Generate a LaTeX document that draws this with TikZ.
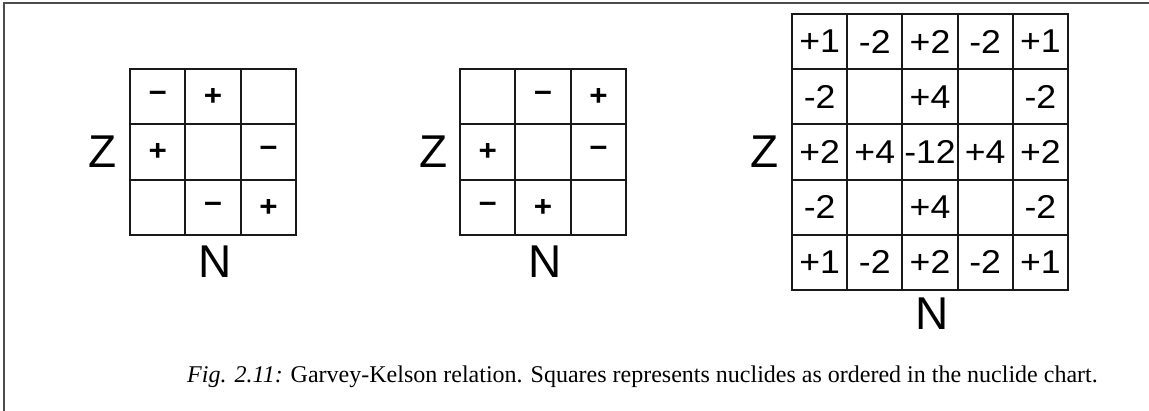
\documentclass[tikz,border=0pt]{standalone}
\usepackage{fontspec}
\setmainfont{Liberation Serif}
\newfontfamily\gksans{Liberation Sans}
\newfontfamily\gkwide[FakeStretch=1.08]{Liberation Sans}
\begin{document}
\begin{tikzpicture}[x=1pt,y=-1pt,
  cellA/.style={draw=black!90,line width=2pt,minimum size=55.4pt,inner sep=0pt,
    font=\gkwide\bfseries\fontsize{29}{29}\selectfont},
  cellB/.style={draw=black!90,line width=2pt,minimum size=55.2pt,inner sep=0pt,
    font=\gkwide\fontsize{33}{33}\selectfont},
  axislabel/.style={font=\gksans\fontsize{46}{46}\selectfont,inner sep=0pt},
  frameline/.style={draw=black!70,line width=2pt},
  caption/.style={font=\fontsize{24}{24}\selectfont,inner sep=0pt,anchor=base west}]
\useasboundingbox (0,0) rectangle (1149,411);
\draw[frameline] (4,411) -- (4,3) -- (1149,3);
% grid 1
\foreach \r/\c/\t in {1/1/{−},1/2/{+},1/3/{},2/1/{+},2/2/{},2/3/{−},3/1/{},3/2/{−},3/3/{+}}{
  \node[cellA] (a\r\c) at ({130+(\c-0.5)*55.4},{69+(\r-0.5)*55.4}) {\t};
}
\node[axislabel] (za) at (102.7,151.7) {Z};
\node[axislabel] (na) at (215,262) {N};
% grid 2
\foreach \r/\c/\t in {1/1/{},1/2/{−},1/3/{+},2/1/{+},2/2/{},2/3/{−},3/1/{−},3/2/{+},3/3/{}}{
  \node[cellA] (b\r\c) at ({460+(\c-0.5)*55.4},{69+(\r-0.5)*55.4}) {\t};
}
\node[axislabel] (zb) at (433.3,151.7) {Z};
\node[axislabel] (nb) at (545.5,262) {N};
% grid 3
\foreach \r/\c/\t in {1/1/{+1},1/2/{-2},1/3/{+2},1/4/{-2},1/5/{+1},
  2/1/{-2},2/2/{},2/3/{+4},2/4/{},2/5/{-2},
  3/1/{+2},3/2/{+4},3/3/{-12},3/4/{+4},3/5/{+2},
  4/1/{-2},4/2/{},4/3/{+4},4/4/{},4/5/{-2},
  5/1/{+1},5/2/{-2},5/3/{+2},5/4/{-2},5/5/{+1}}{
  \node[cellB] (c\r\c) at ({792+(\c-0.5)*55.2},{14+(\r-0.5)*55.2}) {\t};
}
\node[axislabel] (zc) at (765,151.7) {Z};
\node[axislabel] (nc) at (932.3,313.3) {N};
% caption
\node[caption] (cap) at (187,383) {\textit{Fig. 2.11:} Garvey-Kelson relation. Squares represents nuclides as ordered in the nuclide chart.};
\end{tikzpicture}
\end{document}
